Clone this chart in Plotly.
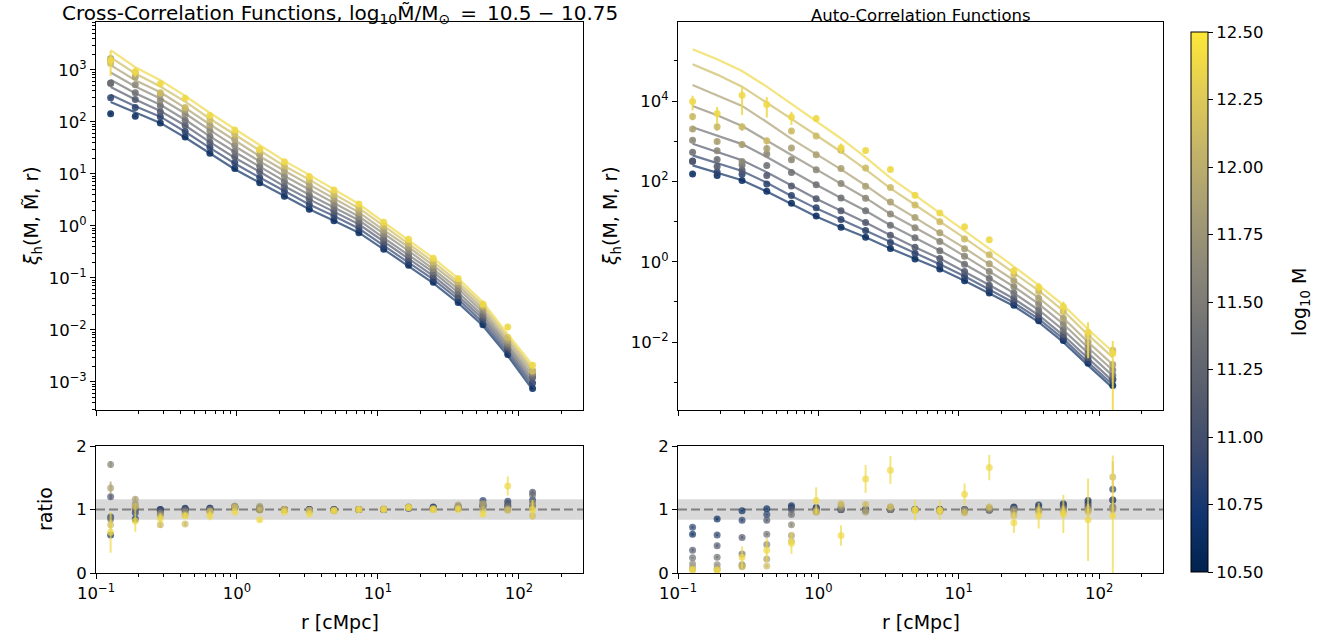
import plotly.graph_objects as go
from plotly.colors import sample_colorscale

# ---------------- data ----------------
R_CMPC = [0.127, 0.190, 0.286, 0.429, 0.643, 0.965, 1.45, 2.17, 3.26, 4.88,
          7.33, 11.0, 16.5, 24.7, 37.1, 55.6, 83.4, 125.1]
LOG_M = [10.625, 10.875, 11.125, 11.375, 11.625, 11.875, 12.125, 12.375]
CBAR_TICKS = [10.5, 10.75, 11.0, 11.25, 11.5, 11.75, 12.0, 12.25, 12.5]

# cross-correlation model lines, log10 xi
CROSS_MODEL_0 = [2.38, 2.18, 1.98, 1.70, 1.39, 1.09, 0.83, 0.57, 0.32, 0.10, -0.13, -0.45, -0.77, -1.10, -1.48, -1.92, -2.50, -3.15]
CROSS_MODEL_1 = [2.52, 2.30, 2.10, 1.81, 1.50, 1.20, 0.93, 0.67, 0.41, 0.19, -0.05, -0.38, -0.70, -1.03, -1.41, -1.86, -2.44, -3.08]
CROSS_MODEL_2 = [2.67, 2.43, 2.21, 1.93, 1.61, 1.31, 1.04, 0.76, 0.51, 0.27, 0.03, -0.30, -0.63, -0.96, -1.35, -1.79, -2.38, -3.02]
CROSS_MODEL_3 = [2.81, 2.55, 2.33, 2.04, 1.72, 1.42, 1.14, 0.86, 0.60, 0.36, 0.11, -0.23, -0.56, -0.89, -1.28, -1.73, -2.32, -2.95]
CROSS_MODEL_4 = [2.95, 2.68, 2.45, 2.16, 1.84, 1.53, 1.24, 0.96, 0.70, 0.44, 0.18, -0.15, -0.48, -0.83, -1.21, -1.66, -2.26, -2.88]
CROSS_MODEL_5 = [3.09, 2.80, 2.57, 2.27, 1.95, 1.64, 1.34, 1.06, 0.79, 0.53, 0.26, -0.08, -0.41, -0.76, -1.14, -1.60, -2.20, -2.81]
CROSS_MODEL_6 = [3.24, 2.93, 2.68, 2.39, 2.06, 1.75, 1.45, 1.15, 0.89, 0.61, 0.34, 0.00, -0.34, -0.69, -1.08, -1.53, -2.14, -2.75]
CROSS_MODEL_7 = [3.38, 3.05, 2.80, 2.50, 2.17, 1.86, 1.55, 1.25, 0.98, 0.70, 0.42, 0.07, -0.27, -0.62, -1.01, -1.47, -2.08, -2.68]

# cross-correlation measured / model ratios
CROSS_RATIO_0 = [0.60, 0.85, 1.00, 1.02, 1.02, 1.03, 1.00, 1.00, 1.00, 1.00, 1.00, 1.00, 1.03, 1.04, 1.02, 1.05, 1.06, 1.06]
CROSS_RATIO_1 = [0.88, 0.95, 1.00, 1.01, 1.02, 1.03, 1.00, 1.00, 1.00, 1.00, 1.00, 1.00, 1.02, 1.03, 1.03, 1.14, 1.13, 1.15]
CROSS_RATIO_2 = [1.20, 1.00, 0.97, 1.00, 1.00, 1.04, 1.01, 1.00, 1.00, 1.00, 1.00, 1.00, 1.03, 1.02, 1.02, 1.08, 1.09, 1.27]
CROSS_RATIO_3 = [0.85, 1.02, 0.95, 0.98, 1.00, 1.04, 1.02, 1.00, 0.99, 1.00, 1.00, 1.00, 1.02, 1.02, 1.04, 1.06, 1.05, 1.23]
CROSS_RATIO_4 = [1.71, 1.08, 0.93, 0.96, 0.98, 1.05, 1.03, 1.00, 0.99, 0.99, 1.00, 1.00, 1.04, 1.01, 1.05, 1.09, 1.02, 1.11]
CROSS_RATIO_5 = [1.34, 1.16, 0.90, 0.92, 0.97, 1.05, 1.05, 1.00, 0.99, 0.98, 1.00, 1.00, 1.04, 1.01, 1.07, 1.09, 1.00, 1.06]
CROSS_RATIO_6 = [0.76, 1.05, 0.76, 0.77, 0.96, 1.03, 0.99, 1.00, 0.98, 0.98, 1.00, 1.01, 1.03, 1.00, 1.02, 1.00, 0.99, 0.90]
CROSS_RATIO_7 = [0.64, 0.82, 0.86, 0.90, 0.90, 0.96, 0.84, 0.96, 0.93, 0.98, 1.00, 1.00, 1.03, 1.00, 1.00, 0.93, 1.37, 1.00]

CROSS_ERR_0 = [0.03, 0.02, 0.01, 0.01, 0.01, 0.01, 0.01, 0.01, 0.01, 0.01, 0.01, 0.01, 0.01, 0.01, 0.01, 0.01, 0.02, 0.02]
CROSS_ERR_1 = [0.03, 0.02, 0.01, 0.01, 0.01, 0.01, 0.01, 0.01, 0.01, 0.01, 0.01, 0.01, 0.01, 0.01, 0.01, 0.02, 0.02, 0.02]
CROSS_ERR_2 = [0.04, 0.02, 0.02, 0.01, 0.01, 0.01, 0.01, 0.01, 0.01, 0.01, 0.01, 0.01, 0.01, 0.01, 0.01, 0.02, 0.02, 0.03]
CROSS_ERR_3 = [0.04, 0.03, 0.02, 0.01, 0.01, 0.01, 0.01, 0.01, 0.01, 0.01, 0.01, 0.01, 0.01, 0.01, 0.02, 0.02, 0.02, 0.03]
CROSS_ERR_4 = [0.05, 0.03, 0.02, 0.02, 0.01, 0.01, 0.01, 0.01, 0.01, 0.01, 0.01, 0.01, 0.01, 0.01, 0.02, 0.02, 0.03, 0.03]
CROSS_ERR_5 = [0.10, 0.04, 0.03, 0.02, 0.02, 0.01, 0.01, 0.01, 0.01, 0.01, 0.01, 0.01, 0.01, 0.02, 0.02, 0.02, 0.03, 0.04]
CROSS_ERR_6 = [0.08, 0.06, 0.05, 0.03, 0.02, 0.02, 0.02, 0.02, 0.02, 0.02, 0.02, 0.02, 0.02, 0.02, 0.02, 0.03, 0.05, 0.06]
CROSS_ERR_7 = [0.32, 0.17, 0.08, 0.05, 0.07, 0.03, 0.04, 0.03, 0.03, 0.03, 0.03, 0.03, 0.03, 0.03, 0.03, 0.05, 0.15, 0.15]

# auto-correlation model lines, log10 xi
AUTO_MODEL_0 = [2.40, 2.22, 2.03, 1.75, 1.43, 1.13, 0.86, 0.61, 0.33, 0.07, -0.18, -0.47, -0.78, -1.10, -1.50, -2.00, -2.58, -3.14]
AUTO_MODEL_1 = [2.65, 2.46, 2.26, 1.97, 1.64, 1.33, 1.05, 0.78, 0.48, 0.21, -0.06, -0.36, -0.69, -1.02, -1.42, -1.92, -2.50, -3.06]
AUTO_MODEL_2 = [2.94, 2.74, 2.53, 2.23, 1.89, 1.57, 1.27, 0.98, 0.66, 0.36, 0.08, -0.24, -0.58, -0.92, -1.33, -1.83, -2.41, -2.97]
AUTO_MODEL_3 = [3.35, 3.15, 2.93, 2.61, 2.26, 1.92, 1.59, 1.27, 0.91, 0.60, 0.28, -0.06, -0.41, -0.78, -1.20, -1.70, -2.28, -2.84]
AUTO_MODEL_4 = [3.88, 3.65, 3.38, 3.03, 2.66, 2.30, 1.94, 1.59, 1.19, 0.85, 0.51, 0.14, -0.24, -0.62, -1.05, -1.55, -2.14, -2.70]
AUTO_MODEL_5 = [4.40, 4.15, 3.88, 3.48, 3.06, 2.68, 2.30, 1.90, 1.47, 1.10, 0.73, 0.34, -0.06, -0.46, -0.90, -1.40, -2.00, -2.56]
AUTO_MODEL_6 = [4.92, 4.66, 4.36, 3.97, 3.56, 3.15, 2.74, 2.30, 1.83, 1.42, 1.01, 0.59, 0.16, -0.27, -0.72, -1.22, -1.82, -2.38]
AUTO_MODEL_7 = [5.29, 5.04, 4.75, 4.36, 3.93, 3.51, 3.07, 2.60, 2.09, 1.66, 1.22, 0.78, 0.33, -0.12, -0.58, -1.08, -1.68, -2.24]

AUTO_RATIO_0 = [0.61, 0.85, 0.98, 1.01, 1.06, 1.02, 1.00, 1.00, 1.00, 1.00, 1.00, 1.00, 1.00, 1.04, 1.07, 1.09, 1.14, 1.15]
AUTO_RATIO_1 = [0.72, 0.60, 0.83, 0.92, 1.03, 1.03, 1.00, 1.00, 1.00, 1.00, 1.00, 1.00, 1.00, 1.03, 1.04, 1.07, 1.10, 1.32]
AUTO_RATIO_2 = [0.36, 0.43, 0.56, 0.83, 1.00, 1.00, 1.00, 1.00, 1.00, 1.00, 1.00, 0.99, 0.99, 1.02, 1.02, 1.05, 1.06, 1.15]
AUTO_RATIO_3 = [0.24, 0.25, 0.30, 0.61, 0.92, 1.00, 1.00, 1.00, 1.00, 1.00, 0.99, 0.99, 0.99, 1.00, 1.00, 1.02, 1.03, 1.04]
AUTO_RATIO_4 = [0.14, 0.13, 0.13, 0.45, 0.76, 0.98, 1.02, 0.98, 1.00, 1.00, 0.99, 1.00, 1.00, 1.00, 1.00, 1.00, 1.00, 1.02]
AUTO_RATIO_5 = [0.08, 0.07, 0.11, 0.22, 0.59, 0.96, 1.06, 0.96, 1.04, 1.00, 0.98, 0.97, 1.02, 0.97, 0.98, 0.98, 1.00, 1.00]
AUTO_RATIO_6 = [0.05, 0.05, 0.10, 0.11, 0.50, 0.96, 1.09, 1.08, 1.04, 0.99, 0.97, 0.95, 1.04, 0.91, 0.96, 0.96, 0.97, 1.51]
AUTO_RATIO_7 = [0.05, 0.045, 0.25, 0.36, 0.47, 1.14, 0.59, 1.48, 1.62, 0.99, 0.99, 1.24, 1.66, 0.79, 0.90, 0.93, 0.84, 0.90]

AUTO_ERR_0 = [0.02, 0.02, 0.01, 0.01, 0.01, 0.01, 0.01, 0.01, 0.01, 0.01, 0.01, 0.01, 0.01, 0.01, 0.01, 0.02, 0.02, 0.03]
AUTO_ERR_1 = [0.02, 0.02, 0.02, 0.01, 0.01, 0.01, 0.01, 0.01, 0.01, 0.01, 0.01, 0.01, 0.01, 0.01, 0.02, 0.02, 0.03, 0.04]
AUTO_ERR_2 = [0.02, 0.02, 0.02, 0.02, 0.01, 0.01, 0.01, 0.01, 0.01, 0.01, 0.01, 0.01, 0.01, 0.02, 0.02, 0.02, 0.03, 0.05]
AUTO_ERR_3 = [0.01, 0.02, 0.02, 0.02, 0.02, 0.01, 0.01, 0.01, 0.01, 0.01, 0.01, 0.01, 0.02, 0.02, 0.02, 0.03, 0.04, 0.06]
AUTO_ERR_4 = [0.01, 0.01, 0.02, 0.03, 0.03, 0.02, 0.02, 0.02, 0.02, 0.02, 0.02, 0.02, 0.02, 0.02, 0.03, 0.04, 0.05, 0.08]
AUTO_ERR_5 = [0.01, 0.01, 0.02, 0.03, 0.04, 0.03, 0.03, 0.03, 0.03, 0.03, 0.03, 0.03, 0.03, 0.04, 0.05, 0.06, 0.08, 0.12]
AUTO_ERR_6 = [0.01, 0.01, 0.02, 0.02, 0.05, 0.04, 0.04, 0.04, 0.04, 0.04, 0.04, 0.05, 0.05, 0.06, 0.07, 0.09, 0.12, 0.25]
AUTO_ERR_7 = [0.02, 0.02, 0.17, 0.19, 0.17, 0.21, 0.16, 0.22, 0.22, 0.16, 0.15, 0.17, 0.20, 0.16, 0.20, 0.30, 0.65, 0.95]

CROSS_MODEL = [CROSS_MODEL_0, CROSS_MODEL_1, CROSS_MODEL_2, CROSS_MODEL_3,
               CROSS_MODEL_4, CROSS_MODEL_5, CROSS_MODEL_6, CROSS_MODEL_7]
CROSS_RATIO = [CROSS_RATIO_0, CROSS_RATIO_1, CROSS_RATIO_2, CROSS_RATIO_3,
               CROSS_RATIO_4, CROSS_RATIO_5, CROSS_RATIO_6, CROSS_RATIO_7]
CROSS_ERR = [CROSS_ERR_0, CROSS_ERR_1, CROSS_ERR_2, CROSS_ERR_3,
             CROSS_ERR_4, CROSS_ERR_5, CROSS_ERR_6, CROSS_ERR_7]
AUTO_MODEL = [AUTO_MODEL_0, AUTO_MODEL_1, AUTO_MODEL_2, AUTO_MODEL_3,
              AUTO_MODEL_4, AUTO_MODEL_5, AUTO_MODEL_6, AUTO_MODEL_7]
AUTO_RATIO = [AUTO_RATIO_0, AUTO_RATIO_1, AUTO_RATIO_2, AUTO_RATIO_3,
              AUTO_RATIO_4, AUTO_RATIO_5, AUTO_RATIO_6, AUTO_RATIO_7]
AUTO_ERR = [AUTO_ERR_0, AUTO_ERR_1, AUTO_ERR_2, AUTO_ERR_3,
            AUTO_ERR_4, AUTO_ERR_5, AUTO_ERR_6, AUTO_ERR_7]

BAND_LO, BAND_HI = 0.84, 1.16

# ---------------- styling helpers ----------------
FONT = "DejaVu Sans"
FS_TICK = 16.5
FS_LABEL = 19
FS_TITLE_L = 20
FS_TITLE_R = 16.5
FS_CBAR_TITLE = 19
M_MIN, M_MAX = 10.5, 12.5
base_cols = sample_colorscale("Cividis", [(m - M_MIN) / (M_MAX - M_MIN) for m in LOG_M])


def rgba(c, a):
    inner = c[c.index("(") + 1:c.index(")")]
    r, g, b = [float(v) for v in inner.split(",")[:3]]
    return f"rgba({int(round(r))},{int(round(g))},{int(round(b))},{a})"


def sup(e):
    return "10<sup>" + str(e).replace("-", "\u2212") + "</sup>"


fig = go.Figure()

panels = [
    (CROSS_MODEL, CROSS_RATIO, CROSS_ERR, "x", "y", "x3", "y3"),
    (AUTO_MODEL, AUTO_RATIO, AUTO_ERR, "x2", "y2", "x4", "y4"),
]
for model, ratio, err, xt, yt, xb, yb in panels:
    for i in range(len(LOG_M)):
        mod_lin = [10 ** v for v in model[i]]
        pts = [m * q for m, q in zip(mod_lin, ratio[i])]
        pts_err = [m * e for m, e in zip(mod_lin, err[i])]
        col = base_cols[i]
        fig.add_trace(go.Scatter(
            x=R_CMPC, y=mod_lin, mode="lines", xaxis=xt, yaxis=yt,
            line=dict(color=rgba(col, 0.7), width=2.2),
            showlegend=False, hoverinfo="skip"))
        fig.add_trace(go.Scatter(
            x=R_CMPC, y=pts, mode="markers", xaxis=xt, yaxis=yt,
            marker=dict(color=rgba(col, 0.88), size=7, line=dict(width=0)),
            error_y=dict(type="data", array=pts_err, visible=True,
                         color=rgba(col, 0.88), thickness=2, width=0),
            showlegend=False, hoverinfo="skip"))
        fig.add_trace(go.Scatter(
            x=R_CMPC, y=ratio[i], mode="markers", xaxis=xb, yaxis=yb,
            marker=dict(color=rgba(col, 0.7), size=7, line=dict(width=0)),
            error_y=dict(type="data", array=err[i], visible=True,
                         color=rgba(col, 0.7), thickness=2, width=0),
            showlegend=False, hoverinfo="skip"))

# colorbar carrier
fig.add_trace(go.Scatter(
    x=[None], y=[None], mode="markers", xaxis="x", yaxis="y",
    marker=dict(color=[M_MIN], colorscale="Cividis", cmin=M_MIN, cmax=M_MAX,
                showscale=True,
                colorbar=dict(
                    x=(1191 - 96) / 1067, xanchor="left", xpad=0, ypad=0,
                    y=(573 - 302) / 551, yanchor="middle",
                    len=540 / 551, lenmode="fraction",
                    thickness=17, thicknessmode="pixels",
                    outlinewidth=1, outlinecolor="black",
                    tickvals=CBAR_TICKS, ticktext=[f"{v:.2f}" for v in CBAR_TICKS],
                    ticks="outside", ticklen=5, tickwidth=1, tickcolor="black",
                    tickfont=dict(family=FONT, size=FS_TICK, color="black"))),
    showlegend=False, hoverinfo="skip"))

axis_common = dict(showline=True, linecolor="black", linewidth=1, mirror=True,
                   ticks="outside", ticklen=5, tickwidth=1, tickcolor="black",
                   showgrid=False, zeroline=False,
                   tickfont=dict(family=FONT, size=FS_TICK, color="black"))

x_major = [0.1, 1, 10, 100]
x_text = [sup(-1), sup(0), sup(1), sup(2)]
x_minor = [m * d for d in [0.1, 1, 10, 100] for m in range(2, 10) if m * d < 290]
x_range = [-1, 2.455]
xminor = dict(tickvals=x_minor, ticks="outside", ticklen=3, tickwidth=0.8, tickcolor="black", showgrid=False)

LEFT = [0, (583 - 96) / 1067]
RIGHT = [(678 - 96) / 1067, 1.0]
TOP = [(573 - 410) / 551, 1.0]
BOT = [0, (573 - 446) / 551]

y1_major = [10 ** e for e in range(-3, 4)]
y1_minor = [m * 10 ** e for e in range(-4, 4) for m in range(2, 10)]
y2_major = [10 ** e for e in (-2, 0, 2, 4)]
y2_minor = [10 ** e for e in (-3, -1, 1, 3, 5)]

fig.update_layout(
    width=1330, height=640,
    margin=dict(l=96, r=167, t=22, b=67),
    plot_bgcolor="white", paper_bgcolor="white",
    font=dict(family=FONT, size=FS_TICK, color="black"),
    xaxis=dict(axis_common, type="log", range=x_range, domain=LEFT, anchor="y",
               tickvals=x_major, ticktext=x_text, showticklabels=False, minor=xminor),
    xaxis2=dict(axis_common, type="log", range=x_range, domain=RIGHT, anchor="y2",
                tickvals=x_major, ticktext=x_text, showticklabels=False, minor=xminor),
    xaxis3=dict(axis_common, type="log", range=x_range, domain=LEFT, anchor="y3",
                tickvals=x_major, ticktext=x_text, minor=xminor),
    xaxis4=dict(axis_common, type="log", range=x_range, domain=RIGHT, anchor="y4",
                tickvals=x_major, ticktext=x_text, minor=xminor),
    yaxis=dict(axis_common, type="log", range=[-3.54, 3.92], domain=TOP, anchor="x",
               tickvals=y1_major, ticktext=[sup(e) for e in range(-3, 4)],
               minor=dict(tickvals=y1_minor, ticks="outside", ticklen=3, tickwidth=0.8,
                          tickcolor="black", showgrid=False)),
    yaxis2=dict(axis_common, type="log", range=[-3.69, 5.97], domain=TOP, anchor="x2",
                tickvals=y2_major, ticktext=[sup(e) for e in (-2, 0, 2, 4)],
                minor=dict(tickvals=y2_minor, ticks="outside", ticklen=3, tickwidth=0.8,
                           tickcolor="black", showgrid=False)),
    yaxis3=dict(axis_common, range=[0, 2], domain=BOT, anchor="x3",
                tickvals=[0, 1, 2], ticktext=["0", "1", "2"]),
    yaxis4=dict(axis_common, range=[0, 2], domain=BOT, anchor="x4",
                tickvals=[0, 1, 2], ticktext=["0", "1", "2"]),
)

for xr, yr in (("x3", "y3"), ("x4", "y4")):
    fig.add_shape(type="rect", xref=f"{xr} domain", yref=yr, x0=0, x1=1,
                  y0=BAND_LO, y1=BAND_HI, fillcolor="rgba(128,128,128,0.3)",
                  line=dict(width=0), layer="below")
    fig.add_shape(type="line", xref=f"{xr} domain", yref=yr, x0=0, x1=1,
                  y0=1, y1=1, line=dict(color="rgb(128,128,128)", width=2, dash="9px,4px"),
                  layer="below")


def px_x(px):
    return (px - 96) / 1067


def px_y(py):
    return (573 - py) / 551


ann = [
    dict(text=("Cross-Correlation Functions, log<sub>10</sub>M\u0303/M<sub>\u2299</sub>"
               "\u2002=\u200210.5 \u2212 10.75"),
         x=sum(LEFT) / 2, y=px_y(14), size=FS_TITLE_L),
    dict(text="Auto-Correlation Functions", x=sum(RIGHT) / 2, y=px_y(15), size=FS_TITLE_R),
    dict(text="r [cMpc]", x=sum(LEFT) / 2, y=px_y(622), size=FS_LABEL),
    dict(text="r [cMpc]", x=sum(RIGHT) / 2, y=px_y(622), size=FS_LABEL),
    dict(text="<i>\u03be</i><sub>h</sub>(M, M\u0303, r)", x=px_x(33), y=px_y(216), textangle=-90, size=FS_LABEL),
    dict(text="<i>\u03be</i><sub>h</sub>(M, M, r)", x=px_x(612), y=px_y(216), textangle=-90, size=FS_LABEL),
    dict(text="ratio", x=px_x(45), y=px_y(509), textangle=-90, size=FS_LABEL),
    dict(text="log<sub>10</sub> M", x=px_x(1300), y=px_y(302), textangle=-90, size=FS_CBAR_TITLE),
]
for a in ann:
    size = a.pop("size")
    fig.add_annotation(xref="paper", yref="paper", showarrow=False,
                       xanchor="center", yanchor="middle",
                       font=dict(family=FONT, size=size, color="black"), **a)

# the page's default 8px body margin would shift the figure; remove it
fig.write_html("out.html", config={"displayModeBar": False},
               post_script="document.body.style.margin='0';")
